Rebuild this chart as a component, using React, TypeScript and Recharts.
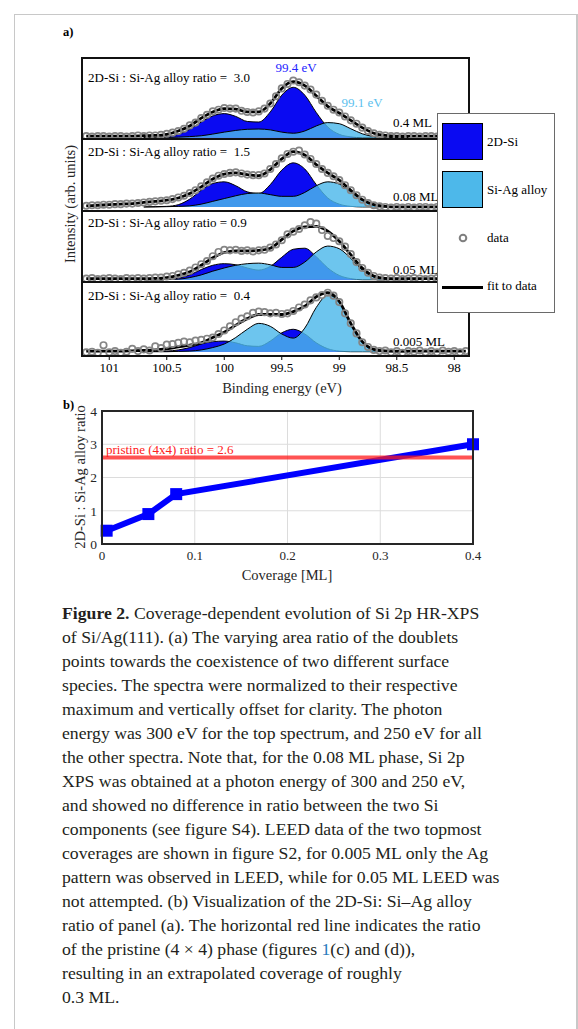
import React from "react";
import {
  ComposedChart,
  LineChart,
  Line,
  Area,
  XAxis,
  YAxis,
  CartesianGrid,
  ReferenceLine,
} from "recharts";

const SERIF = '"Liberation Serif", "Times New Roman", serif';

// ---- panel a : binding energy grids (eV) ----
const dataEnergies = [
  101.2, 101.15, 101.1, 101.05, 101.0, 100.95, 100.9, 100.85, 100.8, 100.75,
  100.7, 100.65, 100.6, 100.55, 100.5, 100.45, 100.4, 100.35, 100.3, 100.25,
  100.2, 100.15, 100.1, 100.05, 100.0, 99.95, 99.9, 99.85, 99.8, 99.75,
  99.7, 99.65, 99.6, 99.55, 99.5, 99.45, 99.4, 99.35, 99.3, 99.25,
  99.2, 99.15, 99.1, 99.05, 99.0, 98.95, 98.9, 98.85, 98.8, 98.75,
  98.7, 98.65, 98.6, 98.55, 98.5, 98.45, 98.4, 98.35, 98.3, 98.25,
  98.2, 98.15, 98.1, 98.05, 98.0, 97.95, 97.9,
];
const fitEnergies = [
  101.2, 101.1, 101.0, 100.9, 100.8, 100.7, 100.6, 100.5, 100.4, 100.3,
  100.2, 100.1, 100.0, 99.9, 99.8, 99.7, 99.6, 99.5, 99.4, 99.3,
  99.2, 99.1, 99.0, 98.9, 98.8, 98.7, 98.6, 98.5, 98.4, 98.3,
  98.2, 98.1, 98.0, 97.9,
];
const compEnergies = [
  100.7, 100.6, 100.5, 100.4, 100.3, 100.2, 100.1, 100.0, 99.9, 99.8,
  99.7, 99.6, 99.5, 99.4, 99.3, 99.2, 99.1, 99.0, 98.9, 98.8,
  98.7, 98.6, 98.5, 98.4,
];
const energyTicks = [98, 98.5, 99, 99.5, 100, 100.5, 101];

// 0.4 ML (normalized intensity)
const data04 = [
  0.03, 0.02, 0.03, 0.03, 0.02, 0.03, 0.03, 0.02, 0.03, 0.04,
  0.03, 0.04, 0.04, 0.05, 0.07, 0.09, 0.12, 0.16, 0.22, 0.27,
  0.35, 0.41, 0.47, 0.5, 0.53, 0.52, 0.52, 0.48, 0.46, 0.45,
  0.47, 0.52, 0.61, 0.74, 0.88, 0.96, 1.02, 0.99, 0.93, 0.86,
  0.77, 0.66, 0.57, 0.5, 0.45, 0.38, 0.31, 0.25, 0.18, 0.12,
  0.08, 0.05, 0.04, 0.03, 0.03, 0.02, 0.03, 0.03, 0.02, 0.03,
  0.03, 0.02, 0.03, 0.03, 0.02, 0.03, 0.03,
];
const fit04 = [
  0.03, 0.03, 0.03, 0.03, 0.03, 0.035, 0.04, 0.06, 0.12, 0.21,
  0.35, 0.46, 0.52, 0.51, 0.46, 0.46, 0.61, 0.88, 1.0, 0.93,
  0.75, 0.56, 0.44, 0.31, 0.18, 0.08, 0.04, 0.03, 0.03, 0.03,
  0.03, 0.03, 0.03, 0.03,
];
const si2d04 = [
  0, 0.005, 0.02, 0.06, 0.15, 0.28, 0.39, 0.43, 0.38, 0.29,
  0.28, 0.46, 0.76, 0.9, 0.76, 0.45, 0.19, 0.06, 0.015, 0,
  0, 0, 0, 0,
];
const alloy04 = [
  0, 0, 0.005, 0.01, 0.02, 0.035, 0.065, 0.1, 0.13, 0.15,
  0.155, 0.14, 0.1, 0.08, 0.12, 0.21, 0.27, 0.25, 0.16, 0.07,
  0.02, 0.005, 0, 0,
];

// 0.08 ML
const data008 = [
  0.02, 0.03, 0.03, 0.04, 0.04, 0.05, 0.05, 0.06, 0.06, 0.07,
  0.08, 0.09, 0.1, 0.11, 0.12, 0.14, 0.17, 0.2, 0.25, 0.3,
  0.37, 0.44, 0.51, 0.56, 0.59, 0.61, 0.62, 0.6, 0.58, 0.57,
  0.57, 0.6, 0.68, 0.77, 0.87, 0.95, 0.99, 1.01, 0.94, 0.86,
  0.77, 0.68, 0.61, 0.55, 0.48, 0.39, 0.3, 0.21, 0.13, 0.07,
  0.03, 0.01, 0.0, -0.01, 0.0, -0.01, 0.0, -0.01, 0.0, 0.0,
  -0.01, 0.0, 0.0, -0.01, 0.0, 0.0, 0.0,
];
const fit008 = [
  0.02, 0.03, 0.04, 0.05, 0.06, 0.08, 0.1, 0.12, 0.16, 0.24,
  0.36, 0.5, 0.59, 0.61, 0.58, 0.56, 0.67, 0.86, 0.99, 0.93,
  0.76, 0.61, 0.48, 0.3, 0.13, 0.04, 0.01, 0.0, 0.0, 0.0,
  0.0, 0.0, 0.0, 0.0,
];
const si2d008 = [
  0, 0.005, 0.01, 0.04, 0.14, 0.3, 0.42, 0.45, 0.38, 0.27,
  0.24, 0.4, 0.66, 0.79, 0.68, 0.4, 0.16, 0.05, 0.01, 0,
  0, 0, 0, 0,
];
const alloy008 = [
  0, 0, 0.005, 0.01, 0.02, 0.05, 0.1, 0.15, 0.2, 0.24,
  0.25, 0.22, 0.19, 0.19, 0.26, 0.38, 0.45, 0.41, 0.27, 0.12,
  0.04, 0.01, 0, 0,
];

// 0.05 ML
const data005 = [
  0.02, 0.03, 0.01, 0.02, 0.03, 0.02, 0.01, 0.03, 0.02, 0.03,
  0.02, 0.03, 0.04, 0.04, 0.06, 0.07, 0.1, 0.13, 0.17, 0.23,
  0.29, 0.35, 0.44, 0.52, 0.56, 0.55, 0.56, 0.54, 0.55, 0.53,
  0.55, 0.56, 0.6, 0.66, 0.74, 0.85, 0.9, 0.95, 1.02, 1.08,
  1.05, 0.93, 0.82, 0.78, 0.72, 0.62, 0.48, 0.33, 0.22, 0.13,
  0.07, 0.04, 0.03, 0.02, 0.03, 0.01, 0.02, 0.03, 0.02, 0.01,
  0.02, 0.03, 0.02, 0.02, 0.01, 0.02, 0.02,
];
const fit005 = [
  0.02, 0.02, 0.02, 0.02, 0.02, 0.02, 0.025, 0.04, 0.08, 0.15,
  0.27, 0.41, 0.51, 0.54, 0.54, 0.55, 0.59, 0.75, 0.91, 0.99,
  1.0, 0.91, 0.72, 0.47, 0.22, 0.07, 0.025, 0.02, 0.02, 0.02,
  0.02, 0.02, 0.02, 0.02,
];
const si2d005 = [
  0, 0.005, 0.01, 0.03, 0.09, 0.19, 0.27, 0.3, 0.28, 0.22,
  0.18, 0.25, 0.42, 0.57, 0.59, 0.43, 0.22, 0.08, 0.02, 0,
  0, 0, 0, 0,
];
const alloy005 = [
  0, 0, 0.005, 0.01, 0.04, 0.09, 0.16, 0.22, 0.27, 0.3,
  0.31, 0.28, 0.23, 0.23, 0.33, 0.52, 0.63, 0.58, 0.4, 0.18,
  0.05, 0.01, 0, 0,
];

// 0.005 ML
const data0005 = [
  -0.01, 0.0, -0.02, 0.11, -0.01, 0.01, -0.02, 0.0, 0.05, 0.01,
  0.04, 0.02, 0.09, 0.06, 0.12, 0.13, 0.15, 0.17, 0.16, 0.19,
  0.2, 0.22, 0.24, 0.3, 0.36, 0.43, 0.5, 0.56, 0.6, 0.66,
  0.68, 0.67, 0.65, 0.66, 0.64, 0.65, 0.69, 0.75, 0.8, 0.87,
  0.92, 0.96, 1.0, 0.95, 0.84, 0.65, 0.48, 0.31, 0.16, 0.08,
  0.03, 0.01, 0.02, -0.01, 0.01, -0.02, 0.01, 0.0, 0.02, -0.01,
  0.01, -0.01, 0.02, 0.0, 0.01, -0.01, 0.01,
];
const fit0005 = [
  0.01, 0.01, 0.01, 0.01, 0.015, 0.02, 0.03, 0.05, 0.08, 0.11,
  0.15, 0.24, 0.33, 0.45, 0.56, 0.63, 0.63, 0.63, 0.68, 0.77,
  0.93, 1.0, 0.85, 0.48, 0.17, 0.04, 0.015, 0.01, 0.01, 0.01,
  0.01, 0.01, 0.01, 0.01,
];
const si2d0005 = [
  0, 0.005, 0.01, 0.03, 0.07, 0.13, 0.17, 0.18, 0.15, 0.1,
  0.09, 0.18, 0.32, 0.38, 0.3, 0.15, 0.05, 0.01, 0, 0,
  0, 0, 0, 0,
];
const alloy0005 = [
  0, 0, 0, 0.005, 0.01, 0.03, 0.07, 0.13, 0.24, 0.38,
  0.48, 0.43, 0.3, 0.23, 0.4, 0.75, 0.96, 0.84, 0.48, 0.16,
  0.03, 0.005, 0, 0,
];

const ratioLabels = ["3.0", "1.5", "0.9", "0.4"];
const coverageLabels = ["0.4 ML", "0.08 ML", "0.05 ML", "0.005 ML"];

// ---- panel b ----
const coverage = [0.005, 0.05, 0.08, 0.4];
const ratio = [0.4, 0.9, 1.5, 3.0];
const pristineRatio = 2.6;
const coverageTicks = [0, 0.1, 0.2, 0.3, 0.4];
const ratioTicks = [0, 1, 2, 3, 4];

const captionLines = [
  "Coverage-dependent evolution of Si 2p HR-XPS",
  "of Si/Ag(111). (a) The varying area ratio of the doublets",
  "points towards the coexistence of two different surface",
  "species. The spectra were normalized to their respective",
  "maximum and vertically offset for clarity. The photon",
  "energy was 300 eV for the top spectrum, and 250 eV for all",
  "the other spectra. Note that, for the 0.08 ML phase, Si 2p",
  "XPS was obtained at a photon energy of 300 and 250 eV,",
  "and showed no difference in ratio between the two Si",
  "components (see figure S4). LEED data of the two topmost",
  "coverages are shown in figure S2, for 0.005 ML only the Ag",
  "pattern was observed in LEED, while for 0.05 ML LEED was",
  "not attempted. (b) Visualization of the 2D-Si: Si\u2013Ag alloy",
  "ratio of panel (a). The horizontal red line indicates the ratio",
  "of the pristine (4 \u00d7 4) phase (figures ",
  "resulting in an extrapolated coverage of roughly",
  "0.3 ML.",
];

const spectra = [
  { data: data04, fit: fit04, si: si2d04, alloy: alloy04 },
  { data: data008, fit: fit008, si: si2d008, alloy: alloy008 },
  { data: data005, fit: fit005, si: si2d005, alloy: alloy005 },
  { data: data0005, fit: fit0005, si: si2d0005, alloy: alloy0005 },
];

// layout of the four stacked sub-panels
const PANEL_X = 82;
const PANEL_W = 387;
const panels = [
  { top: 58, h: 81, dom: [-0.023, 1.423] },
  { top: 139, h: 72, dom: [-0.073, 1.218] },
  { top: 211, h: 71, dom: [-0.043, 1.287] },
  { top: 282, h: 74, dom: [-0.073, 1.181] },
];
const textRows = [78, 152, 223, 296];
const mlRows = [123, 197, 270, 342];
const E_DOMAIN = [97.872, 101.237];

const BLUE = "#0a0af2";
const LIGHT = "#4db8ea";

function Txt({ x, y, size = 13, color = "#000", anchor = "start", bold = false, children }: any) {
  const tx = anchor === "middle" ? "translateX(-50%)" : anchor === "end" ? "translateX(-100%)" : "none";
  return (
    <div
      style={{
        position: "absolute",
        left: x,
        top: y - size * 0.55,
        fontSize: size,
        lineHeight: `${size}px`,
        color,
        fontWeight: bold ? "bold" : "normal",
        whiteSpace: "pre",
        transform: tx,
      }}
    >
      {children}
    </div>
  );
}

function VTxt({ x, y, size = 14.5, children }: any) {
  return (
    <div
      style={{
        position: "absolute",
        left: x,
        top: y,
        fontSize: size,
        lineHeight: `${size}px`,
        whiteSpace: "pre",
        color: "#262626",
        transform: "translate(-50%, -50%) rotate(-90deg)",
      }}
    >
      {children}
    </div>
  );
}

function SpectrumPanel({ idx }: { idx: number }) {
  const s = spectra[idx];
  const p = panels[idx];
  const isTop = idx === 0;
  const isBottom = idx === panels.length - 1;
  const pts = dataEnergies.map((e, i) => ({ e, v: s.data[i] }));
  const fit = fitEnergies.map((e, i) => ({ e, v: s.fit[i] }));
  const comps = compEnergies.map((e, i) => ({ e, si: s.si[i], alloy: s.alloy[i] }));
  return (
    <div style={{ position: "absolute", left: PANEL_X, top: p.top }}>
      <ComposedChart
        width={PANEL_W}
        height={p.h + (isBottom ? 20 : 0)}
        margin={{ top: 0, right: 0, bottom: 0, left: 0 }}
      >
        <XAxis
          type="number"
          dataKey="e"
          domain={E_DOMAIN}
          reversed
          allowDataOverflow
          hide={!isBottom}
          ticks={energyTicks}
          interval={0}
          height={20}
          axisLine={false}
          tickSize={4}
          tickMargin={3}
          tickLine={{ stroke: "#000", strokeWidth: 1 }}
          tick={{ fill: "#000", fontSize: 13, fontFamily: SERIF }}
        />
        {isTop && (
          <XAxis
            xAxisId="top"
            orientation="top"
            type="number"
            domain={E_DOMAIN}
            reversed
            allowDataOverflow
            ticks={energyTicks}
            interval={0}
            height={0}
            mirror
            tick={false}
            tickSize={3}
            axisLine={false}
            tickLine={{ stroke: "#000", strokeWidth: 1 }}
          />
        )}
        <YAxis hide type="number" domain={p.dom} allowDataOverflow />
        <Area
          data={comps}
          dataKey="si"
          type="monotone"
          fill={BLUE}
          fillOpacity={1}
          stroke="#000"
          strokeWidth={1}
          dot={false}
          activeDot={false}
          isAnimationActive={false}
        />
        <Area
          data={comps}
          dataKey="alloy"
          type="monotone"
          fill={LIGHT}
          fillOpacity={0.82}
          stroke="#000"
          strokeWidth={1}
          dot={false}
          activeDot={false}
          isAnimationActive={false}
        />
        <Line
          data={pts}
          dataKey="v"
          stroke="none"
          strokeWidth={0}
          dot={{ r: 3.2, fill: "none", stroke: "#858585", strokeWidth: 1.7 }}
          activeDot={false}
          isAnimationActive={false}
        />
        <Line
          data={fit}
          dataKey="v"
          type="monotone"
          stroke="#000"
          strokeWidth={2.8}
          dot={false}
          activeDot={false}
          isAnimationActive={false}
        />
      </ComposedChart>
    </div>
  );
}

const SquareDot = (props: any) => {
  const { cx, cy, index } = props;
  return <rect key={`sq-${index}`} x={cx - 6} y={cy - 6} width={12} height={12} fill="#0000ff" />;
};

export default function App() {
  const ratioRows = coverage.map((c, i) => ({ cov: c, ratio: ratio[i] }));
  return (
    <div
      style={{
        position: "absolute",
        left: 0,
        top: 0,
        width: 578,
        height: 1029,
        overflow: "hidden",
        background: "#fff",
        fontFamily: SERIF,
        color: "#000",
      }}
    >
      {/* page frame */}
      <div
        style={{
          position: "absolute",
          left: 14,
          top: 14,
          width: 561,
          height: 1100,
          borderLeft: "1px solid #c8c8c8",
          borderTop: "1px solid #c8c8c8",
          borderRight: "2px solid #c8c8c8",
        }}
      />

      {/* ---------- panel a ---------- */}
      <Txt x={63} y={33} size={12.5} bold>
        a)
      </Txt>
      {panels.map((_, i) => (
        <SpectrumPanel key={i} idx={i} />
      ))}
      {/* axes box and separators */}
      <div
        style={{
          position: "absolute",
          left: 81,
          top: 57,
          width: 389,
          height: 300,
          border: "2px solid #111",
          boxSizing: "border-box",
        }}
      />
      {panels.slice(1).map((p, i) => (
        <div
          key={i}
          style={{ position: "absolute", left: 81, top: p.top - 1, width: 389, height: 2, background: "#111" }}
        />
      ))}
      {ratioLabels.map((r, i) => (
        <Txt key={i} x={88} y={textRows[i]}>
          {`2D-Si : Si-Ag alloy ratio = ${i === 2 ? "" : " "}${r}`}
        </Txt>
      ))}
      {coverageLabels.map((c, i) => (
        <Txt key={i} x={393} y={mlRows[i]}>
          {c}
        </Txt>
      ))}
      <Txt x={296} y={68} color="#2323ff" anchor="middle">
        99.4 eV
      </Txt>
      <Txt x={362} y={103} color="#5cbfee" anchor="middle">
        99.1 eV
      </Txt>
      <VTxt x={70} y={204}>
        Intensity (arb. units)
      </VTxt>
      <Txt x={282} y={389} size={14.5} anchor="middle" color="#262626">
        Binding energy (eV)
      </Txt>

      {/* legend */}
      <div
        style={{
          position: "absolute",
          left: 437,
          top: 113,
          width: 118,
          height: 200,
          border: "1px solid #6a6a6a",
          background: "#fff",
          boxSizing: "border-box",
        }}
      >
        <div style={{ position: "absolute", left: 4, top: 9, width: 41, height: 37, background: BLUE, border: "1px solid #000", boxSizing: "border-box" }} />
        <div style={{ position: "absolute", left: 4, top: 57, width: 41, height: 37, background: LIGHT, border: "1px solid #000", boxSizing: "border-box" }} />
        <svg style={{ position: "absolute", left: 18, top: 117 }} width={14} height={14}>
          <circle cx={7} cy={7} r={3.3} fill="none" stroke="#7f7f7f" strokeWidth={2} />
        </svg>
        <div style={{ position: "absolute", left: 4, top: 172, width: 41, height: 3, background: "#000" }} />
      </div>
      <Txt x={487} y={142}>2D-Si</Txt>
      <Txt x={487} y={190}>Si-Ag alloy</Txt>
      <Txt x={487} y={238}>data</Txt>
      <Txt x={487} y={286}>fit to data</Txt>

      {/* ---------- panel b ---------- */}
      <Txt x={63} y={406} size={12.5} bold>
        b)
      </Txt>
      <div style={{ position: "absolute", left: 60, top: 395 }}>
        <LineChart
          width={430}
          height={189}
          data={ratioRows}
          margin={{ top: 16, right: 17, bottom: 0, left: 0 }}
        >
          <CartesianGrid stroke="#dcdcdc" strokeWidth={1} />
          <XAxis
            type="number"
            dataKey="cov"
            domain={[0, 0.4]}
            ticks={coverageTicks}
            interval={0}
            height={40}
            axisLine={false}
            tickLine={false}
            tickSize={0}
            tickMargin={7}
            tick={{ fill: "#262626", fontSize: 13, fontFamily: SERIF }}
          />
          <YAxis
            type="number"
            domain={[0, 4]}
            ticks={ratioTicks}
            interval={0}
            width={42}
            axisLine={false}
            tickLine={false}
            tickSize={0}
            tickMargin={5}
            tick={{ fill: "#262626", fontSize: 13.5, fontFamily: SERIF }}
          />
          <Line
            dataKey="ratio"
            type="linear"
            stroke="#0000ff"
            strokeWidth={6}
            dot={SquareDot}
            activeDot={false}
            isAnimationActive={false}
          />
          <ReferenceLine
            y={pristineRatio}
            stroke="#ff1a1a"
            strokeOpacity={0.75}
            strokeWidth={4}
            label={{
              value: "pristine (4x4) ratio = 2.6",
              position: "insideBottomLeft",
              offset: 4,
              fill: "#ff2020",
              fontSize: 13,
              fontFamily: SERIF,
            }}
          />
        </LineChart>
      </div>
      <div
        style={{
          position: "absolute",
          left: 101,
          top: 410,
          width: 373,
          height: 135,
          border: "2px solid #262626",
          boxSizing: "border-box",
        }}
      />
      <VTxt x={80} y={477}>
        2D-Si : Si-Ag alloy ratio
      </VTxt>
      <Txt x={287} y={576} size={14.5} anchor="middle" color="#262626">
        Coverage [ML]
      </Txt>

      {/* ---------- caption ---------- */}
      {captionLines.map((line, i) => (
        <div
          key={i}
          style={{
            position: "absolute",
            left: 62,
            top: 613 + i * 24 - 12,
            fontSize: 17.7,
            lineHeight: "24px",
            whiteSpace: "pre",
            color: "#231f20",
          }}
        >
          {i === 0 && <b>Figure 2. </b>}
          {line}
          {i === 14 && (
            <>
              <span style={{ color: "#2a7bbd" }}>1</span>(c) and (d)),
            </>
          )}
        </div>
      ))}
    </div>
  );
}
